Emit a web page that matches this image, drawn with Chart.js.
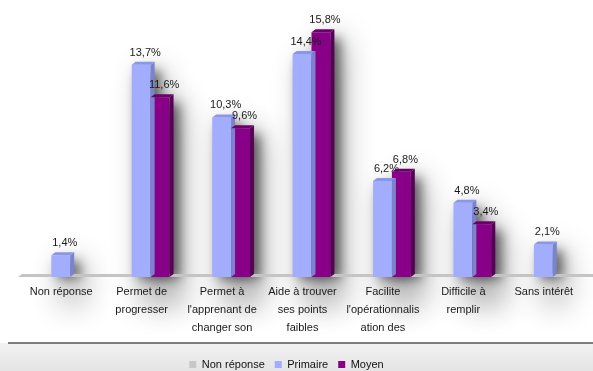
<!DOCTYPE html>
<html>
<head>
<meta charset="utf-8">
<script src="https://cdn.jsdelivr.net/npm/chart.js@4.4.1/dist/chart.umd.min.js"></script>
<style>
  html, body { margin:0; padding:0; width:593px; height:371px; overflow:hidden; background:#fff; }
  #wrap { position:relative; width:593px; height:380px; }
</style>
</head>
<body>
<div id="wrap"><canvas id="c"></canvas></div>
<script>
const categories = [
  ['Non réponse'],
  ['Permet de', 'progresser'],
  ['Permet à', "l'apprenant de", 'changer son'],
  ['Aide à trouver', 'ses points', 'faibles'],
  ['Facilite', "l'opérationnalis", 'ation des'],
  ['Difficile à', 'remplir'],
  ['Sans intérêt']
];
const seriesNames = ['Non réponse', 'Primaire', 'Moyen'];
const nonReponse = [null, null, null, null, null, null, null];
const primaire = [1.4, 13.7, 10.3, 14.4, 6.2, 4.8, 2.1];
const moyen = [null, 11.6, 9.6, 15.8, 6.8, 3.4, null];

const FONT = "'Liberation Sans', Arial, sans-serif";
const DX = 4, DY = 3;
const faces = {
  1: { top: '#8a96e6', side: '#7a84cc' },
  2: { top: '#6a006a', side: '#580058' }
};

function eachBar(chart, fn) {
  [1, 2].forEach(di => {
    const meta = chart.getDatasetMeta(di);
    meta.data.forEach((el, i) => {
      const v = chart.data.datasets[di].data[i];
      if (v == null) return;
      fn(el.getProps(['x', 'y', 'base', 'width'], true), v, di);
    });
  });
}

const deco = {
  id: 'deco',
  beforeDraw(chart) {
    const { ctx, width, height } = chart;
    ctx.save();
    ctx.fillStyle = '#ffffff';
    ctx.fillRect(0, 0, width, height);
    const g = ctx.createLinearGradient(0, 343, 0, 371);
    g.addColorStop(0, '#f2f2f2');
    g.addColorStop(1, '#e4e4e4');
    ctx.fillStyle = g;
    ctx.fillRect(0, 343, width, height - 343);
    ctx.restore();
    const OFF = 10000;
    // wide faint glow
    eachBar(chart, (p) => {
      ctx.save();
      ctx.shadowColor = 'rgba(0,0,0,0.30)';
      ctx.shadowBlur = 30;
      ctx.shadowOffsetX = OFF + 10;
      ctx.shadowOffsetY = 0;
      ctx.fillStyle = '#000';
      ctx.fillRect(p.x - p.width / 2 - OFF, p.y + 6, p.width + DX, p.base - p.y + 22);
      ctx.restore();
    });
    // tight darker shadow
    eachBar(chart, (p) => {
      ctx.save();
      ctx.shadowColor = 'rgba(0,0,0,0.55)';
      ctx.shadowBlur = 12;
      ctx.shadowOffsetX = OFF + 6;
      ctx.shadowOffsetY = 0;
      ctx.fillStyle = '#000';
      ctx.fillRect(p.x - p.width / 2 - OFF, p.y + 6, p.width + DX, p.base - p.y - 4);
      ctx.restore();
    });
  },
  beforeDatasetsDraw(chart) {
    const { ctx, chartArea } = chart;
    const base = chart.scales.y.getPixelForValue(0);
    ctx.save();
    ctx.fillStyle = '#c4c4c4';
    ctx.beginPath();
    ctx.moveTo(chartArea.left - 12, base);
    ctx.lineTo(chartArea.right, base);
    ctx.lineTo(chartArea.right, base - DY);
    ctx.lineTo(chartArea.left - 12 + DX, base - DY);
    ctx.closePath();
    ctx.fill();
    ctx.restore();
  },
  afterDatasetsDraw(chart) {
    const { ctx } = chart;
    eachBar(chart, (p, v, di) => {
      const l = p.x - p.width / 2, r = p.x + p.width / 2;
      ctx.save();
      ctx.fillStyle = faces[di].side;
      ctx.beginPath();
      ctx.moveTo(r, p.y);
      ctx.lineTo(r + DX, p.y - DY);
      ctx.lineTo(r + DX, p.base - DY);
      ctx.lineTo(r, p.base);
      ctx.closePath();
      ctx.fill();
      ctx.fillStyle = faces[di].top;
      ctx.beginPath();
      ctx.moveTo(l, p.y);
      ctx.lineTo(l + DX, p.y - DY);
      ctx.lineTo(r + DX, p.y - DY);
      ctx.lineTo(r, p.y);
      ctx.closePath();
      ctx.fill();
      ctx.fillStyle = '#1a1a1a';
      ctx.font = '11px ' + FONT;
      ctx.textAlign = 'center';
      ctx.textBaseline = 'alphabetic';
      ctx.fillText(String(v).replace('.', ',') + '%', p.x + 4, p.y - 9);
      ctx.restore();
    });
  },
  afterDraw(chart) {
    const { ctx } = chart;
    ctx.save();
    ctx.strokeStyle = '#555';
    ctx.lineWidth = 1.5;
    ctx.beginPath();
    ctx.moveTo(8, 343);
    ctx.lineTo(593, 343);
    ctx.stroke();
    ctx.restore();
  }
};

new Chart(document.getElementById('c'), {
  type: 'bar',
  data: {
    labels: categories,
    datasets: [
      { label: seriesNames[0], data: nonReponse, backgroundColor: '#c8c8c8', grouped: false },
      { label: seriesNames[1], data: primaire, backgroundColor: '#a2aefd' },
      { label: seriesNames[2], data: moyen, backgroundColor: '#880088' }
    ]
  },
  options: {
    responsive: true,
    maintainAspectRatio: false,
    animation: false,
    datasets: { bar: { categoryPercentage: 0.47, barPercentage: 1.0 } },
    layout: { padding: { top: 2, left: -20, right: 0, bottom: 0 } },
    scales: {
      x: {
        grid: { display: false },
        border: { display: false },
        ticks: {
          autoSkip: false, maxRotation: 0, minRotation: 0,
          padding: -2, labelOffset: -9, color: '#1a1a1a',
          font: { family: FONT, size: 11, lineHeight: 1.62 }
        },
        afterFit(s) { s.height = 72; }
      },
      y: {
        display: true, min: 0, max: 17.75,
        grid: { display: false },
        border: { display: false },
        ticks: { display: false },
        afterFit(s) { s.width = 50; }
      }
    },
    plugins: {
      tooltip: { enabled: false },
      legend: {
        position: 'bottom',
        labels: {
          boxWidth: 7, boxHeight: 7, padding: 10, color: '#111',
          font: { family: FONT, size: 11 }
        }
      }
    }
  },
  plugins: [deco]
});
</script>
</body>
</html>
